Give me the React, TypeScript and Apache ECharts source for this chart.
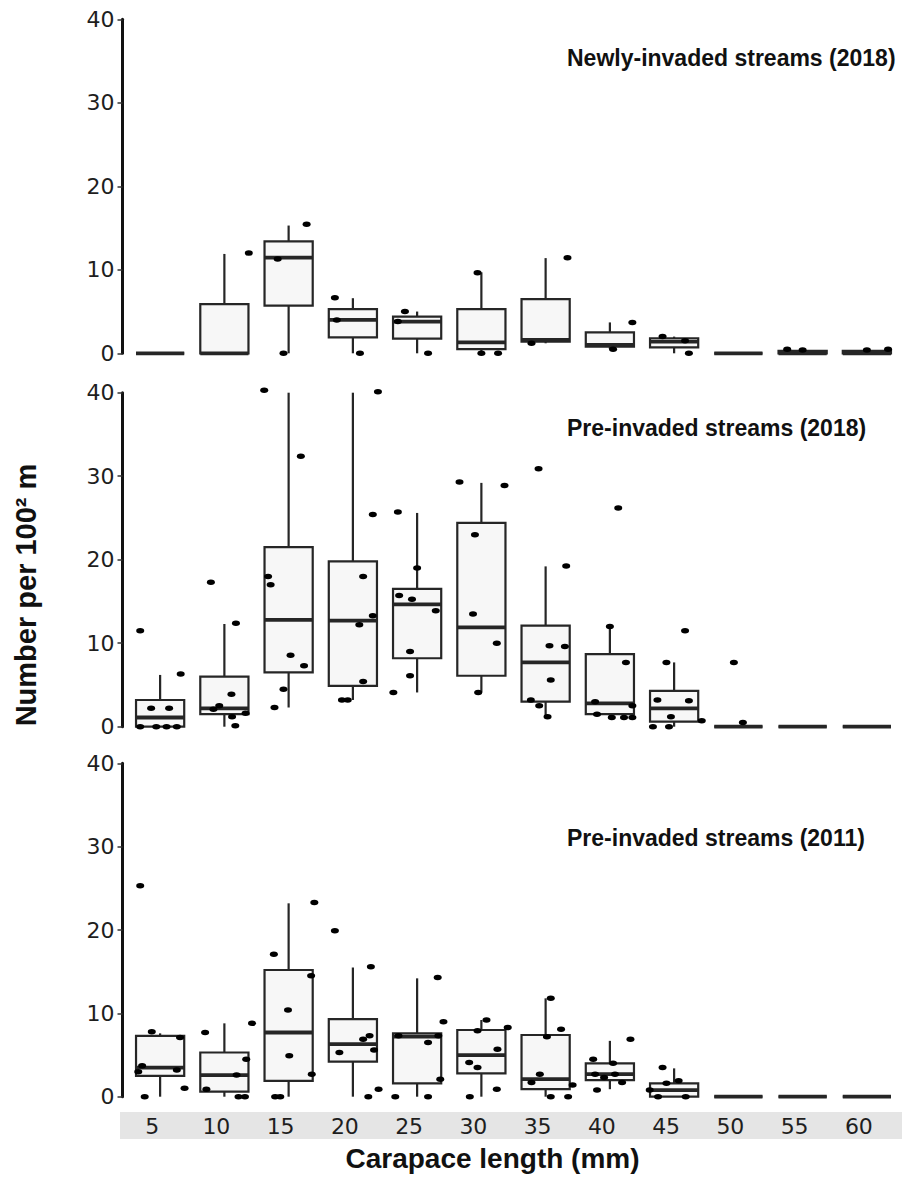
import React, { useEffect, useRef } from 'react';
import * as echarts from 'echarts';

const categories = ['5', '10', '15', '20', '25', '30', '35', '40', '45', '50', '55', '60'];
const panelTitles = ['Newly-invaded streams (2018)', 'Pre-invaded streams (2018)', 'Pre-invaded streams (2011)'];
const yTitle = 'Number per 100\u00b2 m';
const xTitle = 'Carapace length (mm)';

// box statistics per category: [min, q1, median, q3, max]
const newly2018Box = [
  [0, 0, 0, 0, 0],
  [0, 0, 0, 5.9, 11.9],
  [0, 5.7, 11.45, 13.4, 15.3],
  [0, 1.9, 4.0, 5.3, 6.6],
  [0, 1.75, 3.8, 4.4, 5.0],
  [0, 0.5, 1.3, 5.3, 9.7],
  [1.2, 1.4, 1.6, 6.5, 11.4],
  [0.5, 0.8, 1.0, 2.5, 3.7],
  [0, 0.7, 1.4, 1.8, 2.0],
  [0, 0, 0, 0, 0],
  [0, 0, 0, 0.3, 0.5],
  [0, 0, 0, 0.3, 0.5],
];
// observed points: [category index, horizontal jitter, value]
const newly2018Pts = [
  [1, 0.38, 12.0],
  [2, 0.28, 15.45], [2, -0.17, 11.3], [2, -0.08, 0],
  [3, -0.28, 6.66], [3, -0.25, 4.0], [3, 0.11, 0],
  [4, -0.19, 5.0], [4, -0.3, 3.8], [4, 0.17, 0],
  [5, -0.06, 9.65], [5, 0.0, 0], [5, 0.26, 0],
  [6, 0.34, 11.45], [6, -0.22, 1.2],
  [7, 0.35, 3.7], [7, 0.05, 0.5],
  [8, -0.18, 2.0], [8, 0.17, 1.5], [8, 0.23, 0],
  [10, -0.24, 0.5], [10, 0.0, 0.4],
  [11, 0.0, 0.4], [11, 0.33, 0.5],
];

const pre2018Box = [
  [0, 0, 1.1, 3.2, 6.2],
  [0, 1.5, 2.2, 6.0, 12.3],
  [2.3, 6.5, 12.8, 21.5, 40],
  [3.2, 4.9, 12.7, 19.8, 40],
  [4.1, 8.2, 14.65, 16.5, 25.6],
  [4.1, 6.1, 11.9, 24.4, 29.2],
  [1.2, 3.0, 7.7, 12.1, 19.2],
  [1.1, 1.5, 2.8, 8.7, 12.0],
  [0, 0.6, 2.2, 4.3, 7.7],
  [0, 0, 0, 0, 0],
  [0, 0, 0, 0, 0],
  [0, 0, 0, 0, 0],
];
const pre2018Pts = [
  [0, -0.31, 11.5], [0, 0.32, 6.3], [0, -0.14, 2.2], [0, 0.14, 2.2], [0, -0.31, 0], [0, -0.06, 0], [0, 0.1, 0], [0, 0.26, 0],
  [1, -0.21, 17.3], [1, 0.18, 12.4], [1, 0.11, 3.9], [1, -0.17, 2.1], [1, -0.08, 2.5], [1, 0.12, 1.2], [1, 0.33, 1.6], [1, 0.17, 0.1],
  [2, -0.38, 40.3], [2, 0.19, 32.4], [2, -0.32, 18.0], [2, -0.28, 17.0], [2, 0.03, 8.55], [2, 0.24, 7.3], [2, -0.08, 4.5], [2, -0.22, 2.3],
  [3, 0.39, 40.1], [3, 0.31, 25.4], [3, 0.16, 18.0], [3, 0.31, 13.3], [3, 0.1, 12.2], [3, 0.16, 5.4], [3, -0.17, 3.2], [3, -0.08, 3.2],
  [4, -0.3, 25.7], [4, 0.0, 19.0], [4, -0.28, 15.7], [4, -0.08, 15.25], [4, 0.29, 13.9], [4, -0.11, 9.0], [4, -0.11, 6.1], [4, -0.37, 4.1],
  [5, -0.34, 29.3], [5, 0.36, 28.9], [5, -0.1, 23.0], [5, -0.13, 13.5], [5, 0.24, 10.0], [5, -0.05, 4.1],
  [6, -0.11, 30.9], [6, 0.32, 19.25], [6, 0.06, 9.7], [6, 0.3, 9.6], [6, 0.08, 5.6], [6, -0.23, 3.2], [6, -0.1, 2.5], [6, 0.03, 1.2],
  [7, 0.13, 26.2], [7, 0.0, 12.0], [7, 0.25, 7.7], [7, -0.23, 3.0], [7, -0.2, 1.5], [7, 0.03, 1.1], [7, 0.22, 1.1], [7, 0.35, 1.1], [7, 0.35, 2.5],
  [8, 0.17, 11.5], [8, -0.12, 7.7], [8, -0.26, 3.2], [8, 0.23, 3.1], [8, -0.05, 1.2], [8, 0.43, 0.7], [8, -0.33, 0], [8, -0.08, 0],
  [9, -0.07, 7.7], [9, 0.07, 0.5],
];

const pre2011Box = [
  [0, 2.5, 3.5, 7.3, 7.6],
  [0, 0.6, 2.6, 5.3, 8.8],
  [0, 1.9, 7.7, 15.2, 23.2],
  [0, 4.2, 6.3, 9.3, 15.5],
  [0, 1.6, 7.2, 7.6, 14.2],
  [0, 2.8, 5.0, 8.0, 9.2],
  [0, 0.9, 2.1, 7.4, 11.8],
  [0.9, 2.0, 2.7, 4.0, 6.7],
  [0, 0, 0.8, 1.6, 3.4],
  [0, 0, 0, 0, 0],
  [0, 0, 0, 0, 0],
  [0, 0, 0, 0, 0],
];
const pre2011Pts = [
  [0, -0.31, 25.3], [0, -0.13, 7.8], [0, 0.31, 7.1], [0, -0.28, 3.7], [0, -0.34, 3.0], [0, 0.26, 3.2], [0, 0.38, 1.0], [0, -0.24, 0],
  [1, -0.3, 7.7], [1, 0.43, 8.8], [1, 0.34, 4.5], [1, 0.19, 2.6], [1, -0.28, 0.9], [1, 0.22, 0], [1, 0.32, 0],
  [2, 0.4, 23.3], [2, -0.23, 17.1], [2, 0.35, 14.5], [2, -0.01, 10.4], [2, 0.01, 4.9], [2, 0.36, 2.7], [2, -0.21, 0], [2, -0.13, 0],
  [3, -0.28, 19.9], [3, 0.28, 15.6], [3, 0.26, 7.3], [3, 0.16, 6.9], [3, -0.21, 5.3], [3, 0.33, 5.6], [3, 0.4, 0.9], [3, 0.24, 0],
  [4, 0.32, 14.3], [4, 0.41, 9.0], [4, -0.29, 7.3], [4, 0.33, 7.3], [4, 0.17, 6.5], [4, 0.36, 2.1], [4, -0.34, 0], [4, 0.17, 0],
  [5, 0.08, 9.2], [5, -0.06, 7.9], [5, 0.25, 5.7], [5, -0.19, 4.1], [5, -0.06, 3.5], [5, -0.18, 0], [5, 0.24, 0.9], [5, 0.41, 8.3],
  [6, 0.08, 11.8], [6, 0.24, 8.1], [6, 0.02, 7.2], [6, -0.09, 2.7], [6, -0.22, 1.7], [6, 0.42, 1.4], [6, 0.08, 0], [6, 0.35, 0],
  [7, 0.32, 6.9], [7, -0.26, 4.5], [7, 0.05, 4.0], [7, -0.23, 2.7], [7, -0.09, 2.3], [7, 0.08, 2.7], [7, 0.19, 1.7], [7, -0.2, 0.8],
  [8, -0.18, 3.5], [8, 0.07, 1.9], [8, -0.12, 1.6], [8, -0.38, 0.8], [8, -0.25, 0], [8, 0.18, 0],
];

const panels = [
  { box: newly2018Box, pts: newly2018Pts },
  { box: pre2018Box, pts: pre2018Pts },
  { box: pre2011Box, pts: pre2011Pts },
];

const GRID_LEFT = 128;
const GRID_WIDTH = 771;
const GRID_TOPS = [19.3, 392.7, 763.3];
const GRID_HEIGHTS = [334, 334, 333.4];
const TITLE_Y = [57.7, 428, 837.7];
const STROKE = '#262626';
const DOT = 'path://M0,3 A4,3 0 1,1 8,3 A4,3 0 1,1 0,3 Z';

const renderBox = (params: any, api: any) => {
  const i = api.value(0);
  const lo = api.coord([i, api.value(1)]);
  const q1 = api.coord([i, api.value(2)]);
  const md = api.coord([i, api.value(3)]);
  const q3 = api.coord([i, api.value(4)]);
  const hi = api.coord([i, api.value(5)]);
  const w = api.size([1, 0])[0] * 0.75;
  const x = q1[0];
  return {
    type: 'group',
    children: [
      { type: 'line', shape: { x1: x, y1: q3[1], x2: x, y2: hi[1] }, style: { stroke: STROKE, lineWidth: 2.2 } },
      { type: 'line', shape: { x1: x, y1: lo[1], x2: x, y2: q1[1] }, style: { stroke: STROKE, lineWidth: 2.2 } },
      {
        type: 'rect',
        shape: { x: x - w / 2, y: q3[1], width: w, height: q1[1] - q3[1] },
        style: { fill: '#f7f7f7', stroke: STROKE, lineWidth: 2.2 },
      },
      { type: 'line', shape: { x1: x - w / 2, y1: md[1], x2: x + w / 2, y2: md[1] }, style: { stroke: STROKE, lineWidth: 3.8 } },
    ],
  };
};

export default function App() {
  const ref = useRef<HTMLDivElement>(null);

  useEffect(() => {
    document.body.style.margin = '0';
    const chart = echarts.init(ref.current!, null, { renderer: 'svg' });

    const grid = GRID_TOPS.map((top, p) => ({ left: GRID_LEFT, top, width: GRID_WIDTH, height: GRID_HEIGHTS[p] }));

    const catAxes = panels.map((_, p) => ({
      type: 'category',
      gridIndex: p,
      data: categories,
      boundaryGap: true,
      axisLine: { show: false, onZero: false },
      axisTick: { show: false },
      splitLine: { show: false },
      axisLabel: {
        show: p === 2,
        fontFamily: 'DejaVu Sans',
        fontSize: 22,
        color: '#1e1e1e',
        margin: 30,
        verticalAlign: 'middle',
        padding: [0, 16, 0, 0],
        interval: 0,
      },
    }));
    const valAxes = panels.map((_, p) => ({
      type: 'value',
      gridIndex: p,
      min: -0.5,
      max: 11.5,
      show: false,
      axisLine: { onZero: false },
    }));

    const yAxes = panels.map((_, p) => ({
      type: 'value',
      gridIndex: p,
      min: 0,
      max: 40,
      interval: 10,
      offset: 5.5,
      splitLine: { show: false },
      axisLine: { show: true, onZero: false, lineStyle: { color: '#111', width: 3 } },
      axisTick: { show: true, length: 5, lineStyle: { color: '#333', width: 1.5 } },
      axisLabel: { fontFamily: 'DejaVu Sans', fontSize: 22, color: '#1e1e1e', margin: 8 },
    }));

    const series: any[] = [];
    panels.forEach((panel, p) => {
      series.push({
        type: 'custom',
        xAxisIndex: p,
        yAxisIndex: p,
        renderItem: renderBox,
        encode: { x: 0, y: [1, 2, 3, 4, 5] },
        data: panel.box.map((b, i) => [i, ...b]),
        z: 2,
      });
      series.push({
        type: 'scatter',
        xAxisIndex: 3 + p,
        yAxisIndex: p,
        symbol: DOT,
        symbolSize: [8, 5.5],
        clip: false,
        itemStyle: { color: '#000', opacity: 1 },
        data: panel.pts.map(([c, j, v]) => [c + j, v]),
        z: 3,
      });
    });

    const graphic: any[] = [
      {
        type: 'rect',
        z: -10,
        shape: { x: 120, y: 1112, width: 782, height: 27 },
        style: { fill: '#e5e5e5' },
      },
      ...panelTitles.map((t, p) => ({
        type: 'text',
        x: 567,
        y: TITLE_Y[p],
        style: {
          text: t,
          fontFamily: 'Liberation Sans, Arial, sans-serif',
          fontWeight: 'bold',
          fontSize: 23,
          fill: '#111',
          align: 'left',
          verticalAlign: 'middle',
        },
      })),
      {
        type: 'text',
        x: 492.5,
        y: 1158,
        style: {
          text: xTitle,
          fontFamily: 'Liberation Sans, Arial, sans-serif',
          fontWeight: 'bold',
          fontSize: 28,
          fill: '#111',
          align: 'center',
          verticalAlign: 'middle',
        },
      },
      {
        type: 'text',
        x: 25.5,
        y: 595,
        rotation: Math.PI / 2,
        style: {
          text: yTitle,
          fontFamily: 'Liberation Sans, Arial, sans-serif',
          fontWeight: 'bold',
          fontSize: 29,
          fill: '#111',
          align: 'center',
          verticalAlign: 'middle',
        },
      },
    ];

    chart.setOption({
      animation: false,
      backgroundColor: '#ffffff',
      grid,
      xAxis: [...catAxes, ...valAxes],
      yAxis: yAxes,
      series,
      graphic,
    });

    return () => chart.dispose();
  }, []);

  return <div ref={ref} style={{ width: 902, height: 1178 }} />;
}
